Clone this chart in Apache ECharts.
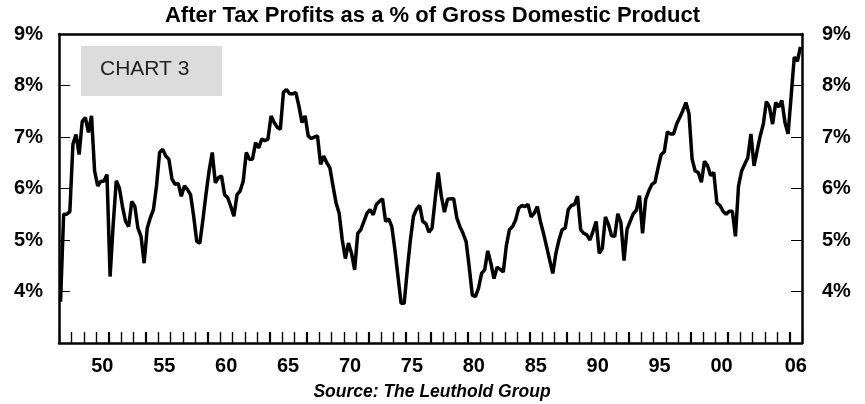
<!DOCTYPE html>
<html>
<head>
<meta charset="utf-8">
<script src="https://cdn.jsdelivr.net/npm/echarts@6/dist/echarts.min.js"></script>
<style>
  html, body { margin: 0; padding: 0; background: #fff; }
  #chart { width: 865px; height: 404px; }
</style>
</head>
<body>
<div id="chart"></div>
<script>
// quarterly data, 1947 Q1 onward
var startYear = 1947;
var endYear = 2007;
var profitPct = [
    3.8, 5.5, 5.5, 5.55, 6.86, 7.05, 6.66, 7.3, 7.38, 7.09, 7.41, 6.34,
    6.05, 6.14, 6.14, 6.27, 4.29, 5.3, 6.15, 6.01, 5.65, 5.36, 5.26, 5.75,
    5.65, 5.23, 5.07, 4.55, 5.23, 5.43, 5.59, 6.05, 6.7, 6.76, 6.63, 6.57,
    6.18, 6.08, 6.1, 5.85, 6.05, 5.98, 5.88, 5.46, 4.97, 4.94, 5.4, 5.9,
    6.35, 6.7, 6.11, 6.21, 6.24, 5.88, 5.82, 5.65, 5.46, 5.88, 5.95, 6.14,
    6.7, 6.57, 6.57, 6.89, 6.79, 6.96, 6.93, 6.96, 7.41, 7.28, 7.19, 7.15,
    7.87, 7.92, 7.84, 7.84, 7.86, 7.6, 7.28, 7.41, 7.02, 6.97, 7.0, 7.02,
    6.47, 6.63, 6.5, 6.4, 6.05, 5.72, 5.52, 5.0, 4.64, 4.94, 4.74, 4.42,
    5.13, 5.2, 5.36, 5.52, 5.59, 5.49, 5.69, 5.75, 5.8, 5.36, 5.41, 5.26,
    4.81, 4.29, 3.77, 3.77, 4.42, 5.0, 5.46, 5.6, 5.67, 5.36, 5.32, 5.15,
    5.23, 5.79, 6.31, 5.85, 5.54, 5.79, 5.8, 5.8, 5.43, 5.26, 5.13, 4.97,
    4.48, 3.93, 3.9, 4.06, 4.35, 4.42, 4.79, 4.55, 4.25, 4.47, 4.43, 4.38,
    4.89, 5.2, 5.26, 5.39, 5.62, 5.67, 5.65, 5.69, 5.45, 5.52, 5.65, 5.36,
    5.13, 4.87, 4.61, 4.35, 4.74, 5.0, 5.2, 5.23, 5.59, 5.67, 5.69, 5.85,
    5.2, 5.13, 5.1, 5.0, 5.17, 5.36, 4.74, 4.84, 5.45, 5.3, 5.08, 5.07,
    5.51, 5.34, 4.6, 5.21, 5.36, 5.51, 5.58, 5.86, 5.13, 5.79, 5.95, 6.08,
    6.12, 6.4, 6.66, 6.71, 7.1, 7.06, 7.06, 7.25, 7.38, 7.51, 7.67, 7.45,
    6.57, 6.34, 6.31, 6.12, 6.53, 6.44, 6.25, 6.31, 5.72, 5.67, 5.56, 5.5,
    5.56, 5.56, 5.07, 6.05, 6.34, 6.47, 6.6, 7.06, 6.44, 6.73, 7.02, 7.25,
    7.69, 7.58, 7.25, 7.67, 7.58, 7.71, 7.28, 7.06, 7.8, 8.55, 8.47, 8.75
];
var shownYears = ['50', '55', '60', '65', '70', '75', '80', '85', '90', '95', '00', '06'];
var yTicks = [3, 9, 1]; // min, max, step

// each quarter sits in the middle of its quarter on the year scale
var seriesData = profitPct.map(function(v, i) {
    return [startYear + i / 4 + 0.125, v];
});
// year boundaries for the little upward ticks along the bottom
var yearBounds = [];
for (var y = startYear + 1; y < endYear; y++) {
    yearBounds.push([y, yTicks[0]]);
}

var font = "'Liberation Sans', Arial, sans-serif";
var yearPx = (865 - 59 - 63) / (endYear - startYear);

var chart = echarts.init(document.getElementById('chart'));

var yAxisBase = {
    type: 'value',
    min: yTicks[0],
    max: yTicks[1],
    interval: yTicks[2],
    axisLine: { show: true, lineStyle: { color: '#000', width: 2.5 } },
    axisTick: { show: true, inside: true, length: 11, lineStyle: { color: '#000', width: 1 } },
    splitLine: { show: false },
    axisLabel: {
        color: '#000',
        fontSize: 20,
        fontWeight: 'bold',
        fontFamily: font,
        formatter: function(v) { return v === yTicks[0] ? '' : v + '%'; }
    }
};

var option = {
    animation: false,
    title: {
        text: 'After Tax Profits as a % of Gross Domestic Product',
        left: 'center',
        top: 5,
        padding: 0,
        textStyle: {
            color: '#000',
            fontSize: 22,
            fontWeight: 'bold',
            fontFamily: font
        }
    },
    grid: { left: 59, right: 63, top: 34, bottom: 61 },
    xAxis: [{
        type: 'value',
        min: startYear,
        max: endYear,
        interval: 1,
        axisLine: { show: true, lineStyle: { color: '#000', width: 2.5 } },
        axisTick: { show: true, inside: true, length: 11, lineStyle: { color: '#000', width: 1.2 } },
        axisLabel: {
            color: '#000',
            fontSize: 20,
            fontWeight: 'bold',
            fontFamily: font,
            margin: 13,
            // push the label to the middle of its year
            padding: [0, 0, 0, yearPx],
            formatter: function(v) {
                var s = String(v).slice(2);
                return shownYears.indexOf(s) >= 0 ? s : '';
            }
        },
        splitLine: { show: false }
    }, {
        // top border
        type: 'value',
        min: startYear,
        max: endYear,
        position: 'top',
        axisLine: { show: true, lineStyle: { color: '#000', width: 2.5 } },
        axisTick: { show: false },
        axisLabel: { show: false },
        splitLine: { show: false }
    }],
    yAxis: [
        Object.assign({}, yAxisBase, { position: 'left', axisLabel: Object.assign({}, yAxisBase.axisLabel, { margin: 16 }) }),
        Object.assign({}, yAxisBase, { position: 'right', axisLabel: Object.assign({}, yAxisBase.axisLabel, { margin: 20 }) })
    ],
    graphic: [{
        type: 'rect',
        shape: { x: 81, y: 46, width: 141, height: 50 },
        style: { fill: '#dcdcdc' },
        z: 5
    }, {
        type: 'text',
        x: 100,
        y: 69,
        z: 6,
        style: {
            text: 'CHART 3',
            fill: '#222',
            font: '21px ' + font,
            verticalAlign: 'middle'
        }
    }, {
        type: 'text',
        x: 432,
        y: 392,
        style: {
            text: 'Source: The Leuthold Group',
            fill: '#000',
            font: 'italic bold 17.5px ' + font,
            align: 'center',
            verticalAlign: 'middle'
        }
    }],
    series: [{
        // yearly tick marks on the bottom axis
        type: 'custom',
        xAxisIndex: 0,
        yAxisIndex: 0,
        data: yearBounds,
        silent: true,
        clip: false,
        z: 20,
        renderItem: function(params, api) {
            var p = api.coord([api.value(0), api.value(1)]);
            var x = Math.round(p[0]) + 0.5;
            return {
                type: 'line',
                shape: { x1: x, y1: p[1], x2: x, y2: p[1] - 11 },
                style: { stroke: '#000', lineWidth: 1.2 }
            };
        }
    }, {
        type: 'line',
        xAxisIndex: 0,
        yAxisIndex: 0,
        data: seriesData,
        showSymbol: false,
        lineStyle: { color: '#000', width: 3.5 },
        z: 10
    }]
};

chart.setOption(option);
</script>
</body>
</html>
